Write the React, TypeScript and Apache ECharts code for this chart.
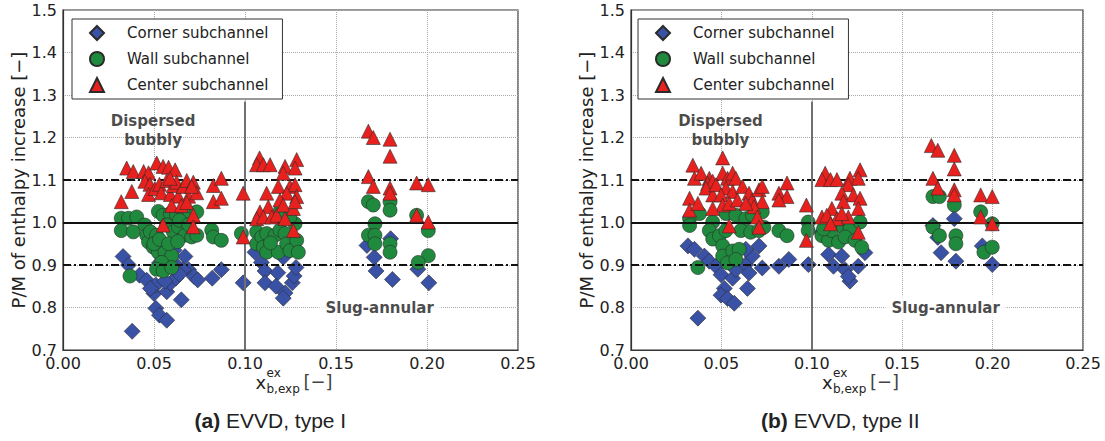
import React, { useEffect, useRef } from "react";
import * as echarts from "echarts";

type Pt = [number, number];

const seriesNames = ["Corner subchannel", "Wall subchannel", "Center subchannel"];
const seriesColors = ["#3a52a6", "#1f8a3d", "#e8211e"];
const seriesSymbols = ["diamond", "circle", "triangle"];
const seriesSizes = [16, 14, 14];

const xTicks = [0, 0.05, 0.1, 0.15, 0.2, 0.25];
const yTicks = [0.7, 0.8, 0.9, 1.0, 1.1, 1.2, 1.3, 1.4, 1.5];
const refSolid = 1.0;
const refDashed = [1.1, 0.9];
const regimeBoundary: Pt[] = [[0.1, 0.7], [0.1, 1.285]];
const annotations: [number, number, string][] = [
  [0.0495, 1.216, "Dispersed\nbubbly"],
  [0.174, 0.8, "Slug-annular"],
];
const captions = [["(a)", " EVVD, type I"], ["(b)", " EVVD, type II"]];

// ---- Panel (a): EVVD, type I ----
const cornerA: Pt[] = [
  [0.033, 0.92], [0.036, 0.9], [0.042, 0.876], [0.046, 0.864], [0.05, 0.833], [0.051, 0.853],
  [0.057, 0.837], [0.059, 0.857], [0.062, 0.869], [0.067, 0.92], [0.061, 0.935], [0.069, 0.889],
  [0.072, 0.873], [0.074, 0.865], [0.065, 0.818], [0.051, 0.798], [0.053, 0.782], [0.057, 0.77],
  [0.038, 0.744], [0.082, 0.869], [0.087, 0.889], [0.099, 0.858], [0.066, 0.889], [0.061, 0.905],
  [0.048, 0.845], [0.056, 0.862], [0.064, 0.878], [0.053, 0.905],
  [0.1055, 0.93], [0.109, 0.906], [0.111, 0.886], [0.118, 0.882], [0.111, 0.858], [0.117, 0.85],
  [0.122, 0.834], [0.121, 0.822], [0.126, 0.858], [0.127, 0.874], [0.128, 0.894], [0.121, 0.918],
  [0.167, 0.946], [0.171, 0.918], [0.172, 0.886], [0.18, 0.962], [0.181, 0.866], [0.195, 0.89],
  [0.201, 0.858],
];
const wallA: Pt[] = [
  [0.032, 1.01], [0.036, 1.01], [0.0405, 1.013], [0.032, 0.981], [0.0386, 0.978], [0.045, 0.994],
  [0.046, 0.97], [0.047, 0.954], [0.0496, 0.942], [0.0524, 0.93], [0.048, 0.978], [0.0514, 0.97],
  [0.0524, 1.026], [0.055, 1.017], [0.059, 1.021], [0.0624, 1.017], [0.066, 1.025], [0.0698, 1.021],
  [0.0735, 1.025], [0.057, 0.994], [0.0606, 0.978], [0.0634, 0.99], [0.067, 0.97], [0.0707, 0.966],
  [0.0735, 0.97], [0.056, 0.93], [0.0597, 0.922], [0.0542, 0.906], [0.0514, 0.89], [0.055, 0.886],
  [0.0597, 0.894], [0.0368, 0.874], [0.0817, 0.982], [0.0826, 0.966], [0.087, 0.958], [0.098, 0.974],
  [0.05, 0.95], [0.053, 0.96], [0.058, 0.95], [0.063, 0.955], [0.064, 1.005], [0.069, 0.995],
  [0.1064, 0.978], [0.1064, 0.95], [0.1092, 0.966], [0.1119, 0.974], [0.1101, 0.942], [0.1119, 0.93],
  [0.1165, 0.97], [0.1192, 0.982], [0.122, 0.974], [0.1183, 0.93], [0.1229, 0.95], [0.1247, 0.934],
  [0.1284, 0.958], [0.1293, 0.93], [0.1275, 0.997], [0.1247, 1.013], [0.1192, 1.025], [0.114, 0.952],
  [0.1678, 1.049], [0.1705, 1.041], [0.1797, 1.049], [0.1797, 1.029], [0.1714, 0.997], [0.1678, 0.97],
  [0.1714, 0.97], [0.1714, 0.95], [0.1797, 0.95], [0.1797, 0.93], [0.1943, 1.017], [0.2007, 0.981],
  [0.2007, 0.922], [0.1952, 0.906],
];
const centerA: Pt[] = [
  [0.035, 1.128], [0.0386, 1.12], [0.032, 1.049], [0.0378, 1.073], [0.0443, 1.12], [0.047, 1.117],
  [0.0515, 1.14], [0.055, 1.132], [0.058, 1.13], [0.0616, 1.124], [0.045, 1.097], [0.0478, 1.09],
  [0.047, 1.066], [0.0505, 1.08], [0.053, 1.09], [0.054, 1.07], [0.057, 1.099], [0.059, 1.066],
  [0.0606, 1.087], [0.0624, 1.095], [0.0634, 1.062], [0.066, 1.085], [0.068, 1.099], [0.069, 1.062],
  [0.0716, 1.095], [0.0735, 1.07], [0.0707, 1.085], [0.0597, 1.04], [0.065, 1.04], [0.068, 1.047],
  [0.0716, 1.017], [0.055, 0.994], [0.0716, 0.99], [0.0826, 1.087], [0.087, 1.104], [0.0826, 1.049],
  [0.087, 1.057], [0.099, 1.069], [0.099, 0.966], [0.0588, 1.104],
  [0.108, 1.152], [0.1064, 1.136], [0.1101, 1.136], [0.1138, 1.136], [0.122, 1.132], [0.1284, 1.148],
  [0.1275, 1.128], [0.121, 1.116], [0.1183, 1.085], [0.1119, 1.069], [0.1247, 1.085], [0.1275, 1.089],
  [0.1229, 1.069], [0.1284, 1.061], [0.1192, 1.053], [0.1128, 1.037], [0.1082, 1.025], [0.1064, 1.009],
  [0.1101, 1.013], [0.1147, 1.013], [0.1174, 1.017], [0.121, 1.041], [0.122, 1.009], [0.1266, 1.033],
  [0.1275, 1.049], [0.1266, 0.981], [0.1678, 1.108], [0.1705, 1.085], [0.1678, 1.215], [0.1705, 1.2],
  [0.1797, 1.196], [0.1797, 1.156], [0.1797, 1.081], [0.1797, 1.069], [0.1943, 1.093], [0.2007, 1.089],
  [0.1943, 1.017], [0.2007, 1.001],
];

// ---- Panel (b): EVVD, type II ----
const cornerB: Pt[] = [
  [0.0315, 0.945], [0.0351, 0.937], [0.0406, 0.921], [0.0433, 0.909], [0.047, 0.897], [0.0498, 0.877],
  [0.0562, 0.869], [0.058, 0.889], [0.0635, 0.901], [0.0671, 0.921], [0.0708, 0.945], [0.0635, 0.937],
  [0.0653, 0.881], [0.0726, 0.893], [0.0516, 0.845], [0.0498, 0.829], [0.0534, 0.821], [0.0571, 0.81],
  [0.0644, 0.845], [0.037, 0.775], [0.0818, 0.897], [0.0873, 0.913], [0.0981, 0.901],
  [0.1056, 0.977], [0.1093, 0.925], [0.112, 0.897], [0.1166, 0.921], [0.1184, 0.889], [0.1211, 0.862],
  [0.1202, 0.873], [0.1257, 0.897], [0.1294, 0.929], [0.167, 0.993], [0.1697, 0.965], [0.1715, 0.929],
  [0.1788, 1.009], [0.1797, 0.909], [0.1943, 0.945], [0.1998, 0.901],
];
const wallB: Pt[] = [
  [0.0324, 1.009], [0.0324, 0.993], [0.0379, 1.021], [0.0452, 1.001], [0.0433, 0.981], [0.0452, 0.961],
  [0.0489, 0.969], [0.0525, 0.981], [0.0525, 1.021], [0.058, 1.017], [0.0635, 1.009], [0.0671, 1.017],
  [0.0726, 1.025], [0.0608, 0.981], [0.0662, 0.977], [0.0708, 0.981], [0.0735, 0.989], [0.0507, 0.945],
  [0.0507, 0.921], [0.0562, 0.933], [0.0598, 0.937], [0.0534, 0.905], [0.058, 0.913], [0.037, 0.894],
  [0.0818, 0.981], [0.0863, 0.969], [0.098, 1.001], [0.098, 0.981],
  [0.1056, 0.969], [0.1093, 0.958], [0.1111, 0.981], [0.1148, 0.954], [0.1175, 0.989], [0.1211, 0.985],
  [0.1184, 0.966], [0.1239, 0.958], [0.1276, 0.942], [0.1267, 1.001], [0.1065, 0.985], [0.167, 1.061],
  [0.1706, 1.061], [0.1788, 1.041], [0.167, 0.989], [0.1706, 0.969], [0.1797, 0.969], [0.1797, 0.95],
  [0.1934, 1.025], [0.1952, 0.93], [0.1998, 0.942], [0.1998, 0.997],
];
const centerB: Pt[] = [
  [0.0342, 1.135], [0.0351, 1.104], [0.0388, 1.116], [0.0433, 1.104], [0.0424, 1.092], [0.0452, 1.097],
  [0.0324, 1.057], [0.0324, 1.029], [0.037, 1.045], [0.0415, 1.081], [0.0452, 1.065], [0.047, 1.089],
  [0.0507, 1.152], [0.0507, 1.116], [0.0534, 1.104], [0.0562, 1.116], [0.058, 1.104], [0.0525, 1.081],
  [0.0562, 1.073], [0.0498, 1.065], [0.0507, 1.041], [0.0543, 1.045], [0.0589, 1.053], [0.0617, 1.085],
  [0.0653, 1.069], [0.0671, 1.053], [0.0708, 1.077], [0.0726, 1.085], [0.0726, 1.049], [0.068, 1.037],
  [0.0635, 1.045], [0.0452, 1.033], [0.0543, 0.992], [0.0699, 1.013], [0.0708, 0.989], [0.0818, 1.069],
  [0.0863, 1.093], [0.0863, 1.061], [0.0818, 1.053], [0.097, 1.041], [0.097, 0.958],
  [0.1074, 1.116], [0.1056, 1.101], [0.1103, 1.101], [0.1139, 1.101], [0.1211, 1.104], [0.1267, 1.124],
  [0.1257, 1.104], [0.1202, 1.089], [0.1166, 1.069], [0.123, 1.065], [0.1267, 1.057], [0.1175, 1.049],
  [0.1111, 1.033], [0.1056, 1.013], [0.1083, 1.017], [0.1139, 1.009], [0.1202, 1.013], [0.1257, 1.033],
  [0.1257, 0.977], [0.1103, 0.997], [0.1166, 1.021], [0.1661, 1.181], [0.1697, 1.17], [0.1788, 1.158],
  [0.1788, 1.126], [0.167, 1.104], [0.1697, 1.081], [0.1788, 1.077], [0.1788, 1.065], [0.1934, 1.065],
  [0.1998, 1.061], [0.1934, 1.013], [0.1998, 0.997],
];

const panels = [
  { data: [cornerA, wallA, centerA], left: 63, width: 455 },
  { data: [cornerB, wallB, centerB], left: 631, width: 452 },
];

const FONT = "DejaVu Sans";

export default function App() {
  const ref = useRef<HTMLDivElement>(null);
  useEffect(() => {
    if (!ref.current) return;
    const chart = echarts.init(ref.current, undefined, { renderer: "svg" });
    const top = 10;
    const height = 340;

    const grids: any[] = [];
    const xAxes: any[] = [];
    const yAxes: any[] = [];
    const series: any[] = [];
    const legends: any[] = [];
    const graphics: any[] = [];

    panels.forEach((p, i) => {
      grids.push({
        left: p.left, top, width: p.width, height,
        show: true, borderColor: "#333", borderWidth: 1.2, backgroundColor: "#fff",
      });
      xAxes.push({
        type: "value", gridIndex: i, min: xTicks[0], max: xTicks[xTicks.length - 1],
        interval: xTicks[1] - xTicks[0],
        axisLine: { show: true, lineStyle: { color: "#333", width: 1.2 } },
        axisTick: { show: false },
        axisLabel: {
          fontSize: 16, color: "#222", fontFamily: FONT, margin: 5,
          formatter: (v: number) => v.toFixed(2), showMaxLabel: true, showMinLabel: true,
        },
        splitLine: { show: true, lineStyle: { color: "#a8a8a8", type: "dotted", width: 1 } },
      });
      yAxes.push({
        type: "value", gridIndex: i, min: yTicks[0], max: yTicks[yTicks.length - 1],
        interval: 0.1,
        name: "P/M of enthalpy increase [−]", nameLocation: "middle", nameGap: 34,
        nameTextStyle: { fontSize: 18, color: "#222", fontFamily: FONT },
        axisLine: { show: true, lineStyle: { color: "#333", width: 1.2 } },
        axisTick: { show: false },
        axisLabel: {
          fontSize: 16, color: "#222", fontFamily: FONT, margin: 6,
          formatter: (v: number) => v.toFixed(1),
        },
        splitLine: { show: true, lineStyle: { color: "#a8a8a8", type: "dotted", width: 1 } },
      });

      // reference lines (behind markers)
      series.push({
        type: "scatter", xAxisIndex: i, yAxisIndex: i, data: [], z: 1, silent: true,
        markLine: {
          silent: true, symbol: "none", animation: false, label: { show: false },
          data: [
            { yAxis: refSolid, lineStyle: { color: "#111", width: 2, type: "solid" } },
            ...refDashed.map((v) => ({ yAxis: v, lineStyle: { color: "#111", width: 2, type: [8, 3, 2, 3] } })),
            [
              { coord: regimeBoundary[0], lineStyle: { color: "#707070", width: 2, type: "solid" } },
              { coord: regimeBoundary[1] },
            ],
          ],
        },
      });

      p.data.forEach((d, k) => {
        series.push({
          type: "scatter", name: seriesNames[k], xAxisIndex: i, yAxisIndex: i,
          data: d, symbol: seriesSymbols[k], symbolSize: seriesSizes[k], z: 3 + k,
          itemStyle: { color: seriesColors[k], borderColor: "#2b2b2b", borderWidth: 0.6, opacity: 1 },
        });
      });

      series.push({
        type: "scatter", xAxisIndex: i, yAxisIndex: i, z: 8, silent: true,
        symbolSize: 1, itemStyle: { color: "rgba(0,0,0,0)" },
        data: annotations.map((a, j) => ({
          value: [a[0], a[1]],
          label: {
            show: true, position: "inside", formatter: a[2],
            fontSize: 15, fontWeight: "bold", color: "#1a1a1a", fontFamily: FONT, lineHeight: 19,
            align: "center", verticalAlign: "middle",
            ...(j === 1 ? { backgroundColor: "#fff", padding: [2, 6] } : {}),
          },
        })),
      });

      legends.push({
        data: seriesNames, orient: "vertical", left: p.left + (i === 0 ? 9 : 7), top: 19,
        itemWidth: 14, itemHeight: 14, itemGap: 10, padding: [6, 14, 6, 17],
        borderColor: "#333", borderWidth: 1, backgroundColor: "#fff",
        textStyle: { fontSize: 15, color: "#222", fontFamily: FONT, padding: [0, 0, 0, 18] },
        selectedMode: false,
      });

      const cx = p.left + p.width / 2;
      const xl = cx - 35;
      graphics.push(
        { type: "text", left: xl, top: 373, style: { text: "x", fontSize: 18, fontFamily: FONT, fill: "#222" } },
        { type: "text", left: xl + 11, top: 367, style: { text: "ex", fontSize: 12, fontFamily: FONT, fill: "#222" } },
        { type: "text", left: xl + 11, top: 383, style: { text: "b,exp", fontSize: 12, fontFamily: FONT, fill: "#222" } },
        { type: "text", left: xl + 48, top: 372, style: { text: "[−]", fontSize: 18, fontFamily: FONT, fill: "#444" } },
        {
          type: "text", left: cx - 15 - 81, top: 410,
          style: {
            text: `{b|${captions[i][0]}}${captions[i][1]}`,
            fontSize: 21, fontFamily: "Liberation Sans", fill: "#222",
            rich: { b: { fontWeight: "bold", fontSize: 21, fontFamily: "Liberation Sans", fill: "#222" } },
          },
        },
      );
    });

    chart.setOption({
      animation: false,
      backgroundColor: "#fff",
      textStyle: { fontFamily: FONT },
      grid: grids,
      xAxis: xAxes,
      yAxis: yAxes,
      legend: legends,
      series,
      graphic: graphics,
    });
    return () => chart.dispose();
  }, []);
  return <div ref={ref} style={{ position: "fixed", left: 0, top: 0, width: 1105, height: 441 }} />;
}
